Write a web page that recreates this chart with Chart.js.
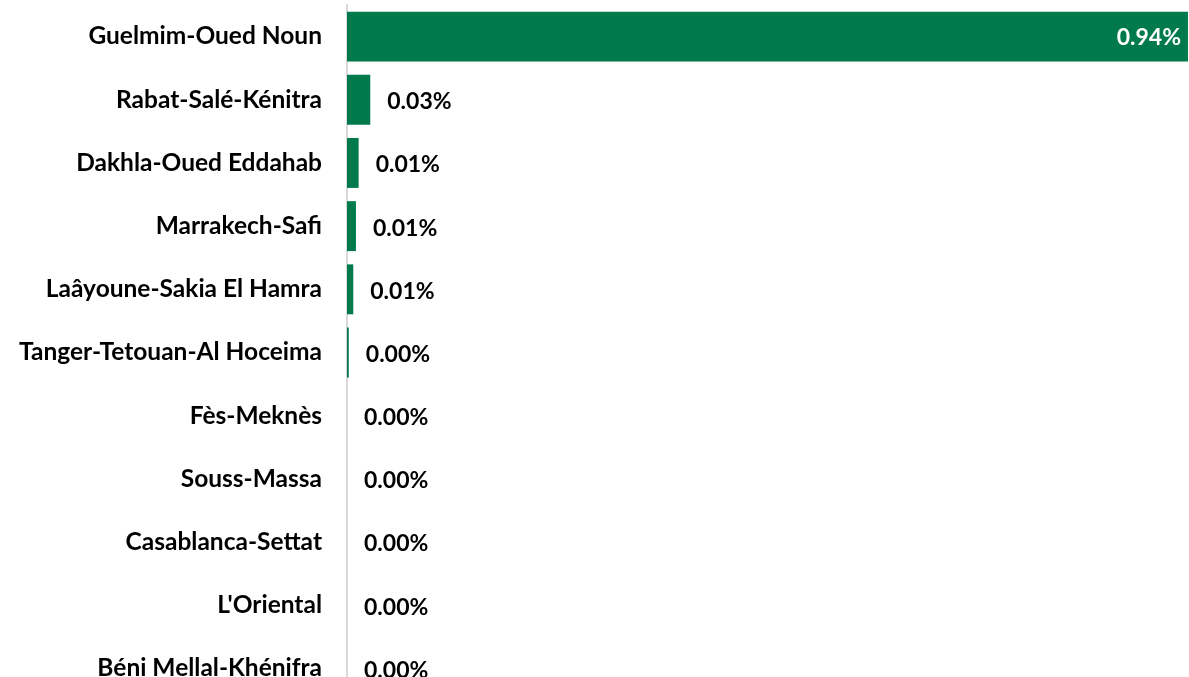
<!DOCTYPE html>
<html>
<head>
<meta charset="utf-8">
<script src="https://cdn.jsdelivr.net/npm/chart.js@4"></script>
<style>
  html, body { margin: 0; padding: 0; background: #fff; overflow: hidden; }
  #wrap { width: 1189px; height: 700px; }
</style>
</head>
<body>
<div id="wrap"><canvas id="chart" width="1189" height="700"></canvas></div>
<script>
// regions and their share (%)
const regions = [
    "Guelmim-Oued Noun",
    "Rabat-Salé-Kénitra",
    "Dakhla-Oued Eddahab",
    "Marrakech-Safi",
    "Laâyoune-Sakia El Hamra",
    "Tanger-Tetouan-Al Hoceima",
    "Fès-Meknès",
    "Souss-Massa",
    "Casablanca-Settat",
    "L'Oriental",
    "Béni Mellal-Khénifra"
];
const shares = [0.94, 0.026, 0.013, 0.010, 0.007, 0.002, 0, 0, 0, 0, 0];

const barColor = "#007A4D";
const fontFamily = "Lato, 'Open Sans', sans-serif";

// draws the value labels next to (or inside) each bar
const valueLabels = {
    id: "valueLabels",
    afterDatasetsDraw(chart) {
        const ctx = chart.ctx;
        const meta = chart.getDatasetMeta(0);
        ctx.save();
        ctx.font = "bold 23px " + fontFamily;
        ctx.textBaseline = "middle";
        meta.data.forEach((bar, i) => {
            const v = shares[i];
            const text = v.toFixed(2) + "%";
            if (v > 0.5) {
                ctx.fillStyle = "#ffffff";
                ctx.textAlign = "right";
                ctx.fillText(text, bar.x - 7, bar.y + 1);
            } else {
                ctx.fillStyle = "#000000";
                ctx.textAlign = "left";
                ctx.fillText(text, bar.x + 17, bar.y + 2);
            }
        });
        ctx.restore();
    }
};

new Chart(document.getElementById("chart"), {
    type: "bar",
    data: {
        labels: regions,
        datasets: [{
            data: shares,
            backgroundColor: barColor,
            barPercentage: 0.79,
            categoryPercentage: 1
        }]
    },
    options: {
        indexAxis: "y",
        responsive: false,
        animation: false,
        layout: { padding: { top: 5, right: 1, bottom: 0, left: 0 } },
        plugins: {
            legend: { display: false },
            tooltip: { enabled: false }
        },
        scales: {
            x: {
                display: false,
                min: 0,
                max: 0.94
            },
            y: {
                afterFit(axis) {
                    axis.width = 347;
                    axis.paddingTop = 0;
                    axis.paddingBottom = 0;
                },
                grid: { display: false, drawTicks: false },
                border: { display: true, color: "#d9d9d9", width: 2 },
                ticks: {
                    color: "#000000",
                    padding: 25,
                    font: { family: fontFamily, size: 24.5, weight: "bold" }
                }
            }
        }
    },
    plugins: [valueLabels]
});
</script>
</body>
</html>
